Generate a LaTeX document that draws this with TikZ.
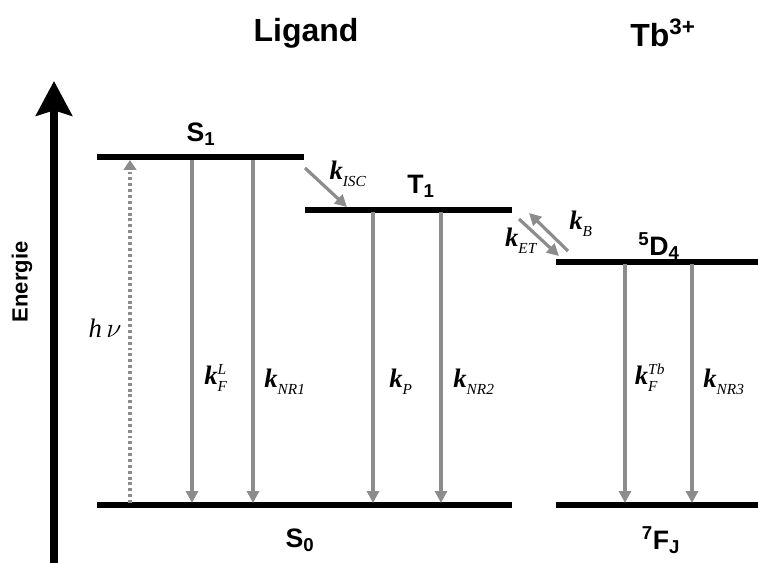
\documentclass[tikz,border=0pt]{standalone}
\usepackage{fontspec}
\setmainfont{Liberation Serif}
\setsansfont{Liberation Sans}
\usetikzlibrary{arrows.meta}
\definecolor{arrgray}{gray}{0.55}
\tikzset{
  x=0.75pt, y=-0.75pt,
  level/.style={line width=3.8pt, black},
  trans/.style={line width=2.4pt, arrgray, -{Triangle[length=9pt,width=9pt]}},
  dottrans/.style={line width=2.4pt, arrgray, dash pattern=on 2.2pt off 2.2pt, -{Triangle[length=7.5pt,width=9.5pt]}},
  title/.style={font=\sffamily\bfseries\fontsize{24}{26}\selectfont},
  lvl/.style={font=\sffamily\bfseries\fontsize{20}{22}\selectfont},
  axlbl/.style={font=\sffamily\bfseries\fontsize{16.5}{18}\selectfont},
  rate/.style={font=\fontsize{20}{22}\selectfont},
}
\newcommand{\idx}[1]{\mbox{\fontsize{11.5}{12}\selectfont\itshape #1}}
\newcommand{\kk}[2]{\textbf{\textit{k}}$_{\idx{#1}}^{\idx{#2}}$}
\begin{document}
\begin{tikzpicture}
\useasboundingbox (0,0) rectangle (758,563);
% axis
\coordinate (axb) at (54,563);
\coordinate (axt) at (54,81);
\draw[line width=5.3pt, -{Stealth[length=26pt,width=27pt,inset=4pt]}] (axb) -- (axt);
\node[axlbl, rotate=90] (energie) at (22,282) {Energie};
% titles
\node[title] (lig) at (306,33) {Ligand};
\node[title] (tb) at (663,33) {Tb\textsuperscript{3+}};
% levels
\coordinate (s1a) at (97,157); \coordinate (s1b) at (304,157);
\coordinate (t1a) at (305,210); \coordinate (t1b) at (512,210);
\coordinate (d4a) at (556,262); \coordinate (d4b) at (758,262);
\coordinate (s0a) at (97,505); \coordinate (s0b) at (512,505);
\coordinate (fja) at (556,505); \coordinate (fjb) at (758,505);
\draw[level] (s1a) -- (s1b);
\draw[level] (t1a) -- (t1b);
\draw[level] (d4a) -- (d4b);
\draw[level] (s0a) -- (s0b);
\draw[level] (fja) -- (fjb);
\node[lvl] (S1) at (201,134) {S\textsubscript{1}};
\node[lvl] (T1) at (421,186) {T\textsubscript{1}};
\node[lvl] (D4) at (659,246) {\textsuperscript{5}D\textsubscript{4}};
\node[lvl] (S0) at (300,540) {S\textsubscript{0}};
\node[lvl] (FJ) at (661,540) {\textsuperscript{7}F\textsubscript{J}};
% transitions
\coordinate (hvb) at (130,503); \coordinate (hvt) at (130,160);
\draw[dottrans] (hvb) -- (hvt);
\node[rate] (hv) at (105,328) {\textit{h}\,$\nu$};
\coordinate (f1t) at (192,160); \coordinate (f1b) at (192,503);
\draw[trans] (f1t) -- (f1b);
\node[rate] (kfl) at (216,378) {\kk{F}{L}};
\coordinate (n1t) at (253,160); \coordinate (n1b) at (253,503);
\draw[trans] (n1t) -- (n1b);
\node[rate] (knr1) at (285,382) {\kk{NR1}{}};
\coordinate (pt) at (373,212); \coordinate (pb) at (373,503);
\draw[trans] (pt) -- (pb);
\node[rate] (kp) at (401,382) {\kk{P}{}};
\coordinate (n2t) at (441,212); \coordinate (n2b) at (441,503);
\draw[trans] (n2t) -- (n2b);
\node[rate] (knr2) at (474,382) {\kk{NR2}{}};
\coordinate (ft) at (625,264); \coordinate (fb) at (625,503);
\draw[trans] (ft) -- (fb);
\node[rate] (kftb) at (650,378) {\kk{F}{Tb}};
\coordinate (n3t) at (692,264); \coordinate (n3b) at (692,503);
\draw[trans] (n3t) -- (n3b);
\node[rate] (knr3) at (724,382) {\kk{NR3}{}};
% ISC
\coordinate (isca) at (305,168); \coordinate (iscb) at (347,207);
\draw[trans] (isca) -- (iscb);
\node[rate] (kisc) at (348,174) {\kk{ISC}{}};
% ET / back
\coordinate (eta) at (519,219); \coordinate (etb) at (559,256);
\draw[trans] (eta) -- (etb);
\coordinate (ba) at (568,251); \coordinate (bb) at (529,213);
\draw[trans] (ba) -- (bb);
\node[rate] (ket) at (521,241) {\kk{ET}{}};
\node[rate] (kb) at (581,224) {\kk{B}{}};
\end{tikzpicture}
\end{document}
